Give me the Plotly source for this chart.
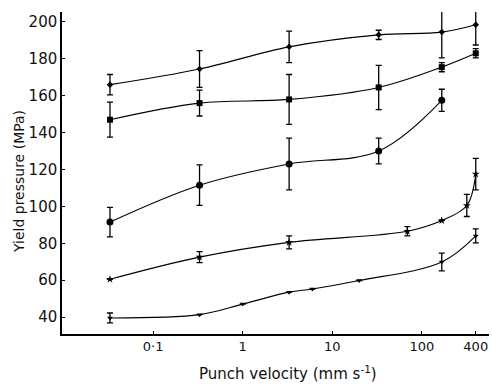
import plotly.graph_objects as go

# Punch velocity (mm s^-1)
x_s1 = [0.033, 0.33, 3.3, 33, 167, 400]
y_s1 = [166, 174.5, 186.5, 193, 194.5, 198.5]
e_s1 = [5.5, 10, 8.5, 2.5, 14, 11]

x_s2 = [0.033, 0.33, 3.3, 33, 167, 400]
y_s2 = [147, 156, 158, 164.5, 175.5, 183]
e_s2 = [9.5, 7, 13.5, 12, 2.5, 2.5]

x_s3 = [0.033, 0.33, 3.3, 33, 167]
y_s3 = [91.5, 111.5, 123, 130, 157.5]
e_s3 = [8, 11, 14, 7, 6]

x_s4 = [0.033, 0.33, 3.3, 69, 167, 318, 400]
y_s4 = [60.5, 72.5, 80.5, 86.5, 92.3, 100.5, 117.5]
e_s4 = [0, 3, 3.5, 2.5, 0, 6, 8.5]

x_s5 = [0.033, 0.33, 1, 3.3, 6, 20, 167, 400]
y_s5 = [39.5, 41.3, 47, 53.5, 55.2, 59.8, 69.8, 84]
e_s5 = [2.7, 0, 0, 0, 0, 0, 4.8, 3.8]

x_tickvals = [0.1, 1, 10, 100, 400]
x_ticktext = ["0·1", "1", "10", "100", "400"]
y_tickvals = [40, 60, 80, 100, 120, 140, 160, 180, 200]

series = [
    (x_s1, y_s1, e_s1, "diamond", 5),
    (x_s2, y_s2, e_s2, "square", 6),
    (x_s3, y_s3, e_s3, "circle", 7),
    (x_s4, y_s4, e_s4, "star", 6),
    (x_s5, y_s5, e_s5, "triangle-down", 5),
]

fig = go.Figure()
for xs, ys, es, sym, sz in series:
    fig.add_trace(go.Scatter(
        x=xs, y=ys, mode="lines+markers",
        line=dict(color="black", width=1.1, shape="spline", smoothing=1.0),
        marker=dict(symbol=sym, size=sz, color="black"),
        error_y=dict(type="data", array=es, visible=True, color="black",
                     thickness=1.3, width=3),
        showlegend=False,
    ))

font_family = "DejaVu Sans, sans-serif"
fig.update_layout(
    width=492, height=386,
    margin=dict(l=62, r=3, t=12, b=52),
    paper_bgcolor="white", plot_bgcolor="white",
    font=dict(family=font_family, color="#111", size=14),
    xaxis=dict(
        type="log", range=[-2.017, 2.75],
        tickvals=x_tickvals, ticktext=x_ticktext,
        ticks="inside", ticklen=3, tickcolor="black",
        showgrid=False, zeroline=False,
        showline=True, linecolor="black", linewidth=1.5,
        tickfont=dict(size=13),
    ),
    yaxis=dict(
        range=[30.8, 205.4],
        tickvals=y_tickvals,
        ticks="inside", ticklen=3, tickcolor="black",
        showgrid=False, zeroline=False,
        showline=True, linecolor="black", linewidth=1.5,
        tickfont=dict(size=15),
    ),
    annotations=[
        dict(
            text="Punch velocity (mm s<sup>-1</sup>)",
            xref="paper", yref="paper", x=0.529, y=0,
            xanchor="center", yanchor="middle", yshift=-39,
            showarrow=False, font=dict(size=15),
        ),
        dict(
            text="Yield pressure (MPa)",
            xref="paper", yref="paper", x=-0.1007, y=0.472,
            xanchor="center", yanchor="middle", textangle=-90,
            showarrow=False, font=dict(size=14),
        ),
    ],
)

fig.write_html("out.html")
